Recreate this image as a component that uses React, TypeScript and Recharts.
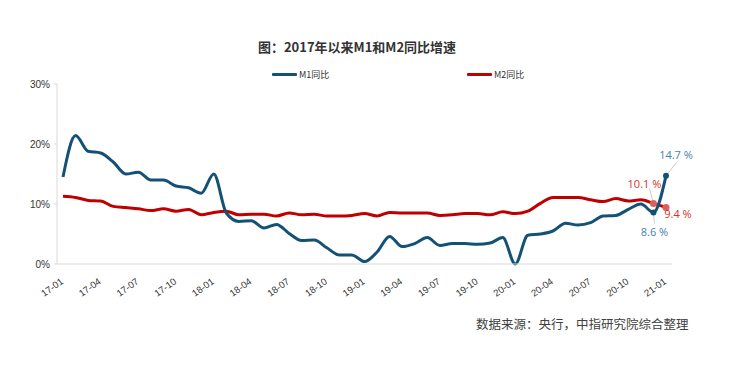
import React from "react";
import { LineChart, Line, XAxis, YAxis } from "recharts";

const months = [
  "17-01","17-02","17-03","17-04","17-05","17-06","17-07","17-08","17-09","17-10","17-11","17-12",
  "18-01","18-02","18-03","18-04","18-05","18-06","18-07","18-08","18-09","18-10","18-11","18-12",
  "19-01","19-02","19-03","19-04","19-05","19-06","19-07","19-08","19-09","19-10","19-11","19-12",
  "20-01","20-02","20-03","20-04","20-05","20-06","20-07","20-08","20-09","20-10","20-11","20-12",
  "21-01",
];

const m1 = [
  14.5, 21.4, 18.8, 18.5, 17.0, 15.0, 15.3, 14.0, 14.0, 13.0, 12.7, 11.8,
  15.0, 8.5, 7.1, 7.2, 6.0, 6.6, 5.1, 3.9, 4.0, 2.7, 1.5, 1.5,
  0.4, 2.0, 4.6, 2.9, 3.4, 4.4, 3.1, 3.4, 3.4, 3.3, 3.5, 4.4,
  0.0, 4.8, 5.0, 5.5, 6.8, 6.5, 6.9, 8.0, 8.1, 9.1, 10.0, 8.6,
  14.7,
];

const m2 = [
  11.3, 11.1, 10.6, 10.5, 9.6, 9.4, 9.2, 8.9, 9.2, 8.8, 9.1, 8.2,
  8.6, 8.8, 8.2, 8.3, 8.3, 8.0, 8.5, 8.2, 8.3, 8.0, 8.0, 8.1,
  8.4, 8.0, 8.6, 8.5, 8.5, 8.5, 8.1, 8.2, 8.4, 8.4, 8.2, 8.7,
  8.4, 8.8, 10.1, 11.1, 11.1, 11.1, 10.7, 10.4, 10.9, 10.5, 10.7, 10.1,
  9.4,
];

const yTicks = [0, 10, 20, 30];
const seriesNames = ["M1同比", "M2同比"];
const title = "图：2017年以来M1和M2同比增速";
const source = "数据来源：央行，中指研究院综合整理";

const data = months.map((m, i) => ({ month: m, m1: m1[i], m2: m2[i] }));

const M1_COLOR = "#135274";
const M2_COLOR = "#C00000";
const M1_LABEL = "#3C83B5";
const M2_LABEL = "#D9302C";

// annotation placement (relative to the point) per series/index
const m1Ann: Record<number, { lx: number; ly: number; tx: number; ty: number }> = {
  47: { lx: 1, ly: 11, tx: 1, ty: 19 },
  48: { lx: 11, ly: -14, tx: 10, ty: -21 },
};
const m2Ann: Record<number, { lx: number; ly: number; tx: number; ty: number }> = {
  47: { lx: -4, ly: -15, tx: -9, ty: -20 },
  48: { lx: 4, ly: 4, tx: 12, ty: 6 },
};

const makeDot = (ann: typeof m1Ann, dotColor: string, labelColor: string, r: number) => (props: any) => {
  const { cx, cy, index, value } = props;
  const a = ann[index];
  if (!a || cx == null || cy == null) return <g key={`d-${index}`} />;
  const v = Array.isArray(value) ? value[1] : value;
  return (
    <g key={`d-${index}`}>
      <line x1={cx} y1={cy} x2={cx + a.lx} y2={cy + a.ly} stroke="#BFBFBF" strokeWidth={0.8} />
      <circle cx={cx} cy={cy} r={r} fill={dotColor} />
      <text
        x={cx + a.tx}
        y={cy + a.ty}
        textAnchor="middle"
        dominantBaseline="central"
        fontSize={11}
        fontFamily="'Open Sans', 'Liberation Sans', sans-serif"
        fill={labelColor}
      >
        {`${Number(v).toFixed(1)} %`}
      </text>
    </g>
  );
};

const XTick = (props: any) => {
  const { x, y, payload } = props;
  const ax = x + 1;
  const ay = y + 11;
  return (
    <text
      x={ax}
      y={ay}
      transform={`rotate(-35, ${ax}, ${ay})`}
      textAnchor="end"
      fontSize={9.5}
      fontFamily="'Liberation Sans', Arial, sans-serif"
      fill="#333"
    >
      {payload.value}
    </text>
  );
};

export default function App() {
  return (
    <div style={{ position: "absolute", left: 0, top: 0, width: 730, height: 377, background: "#fff" }}>
      <div
        style={{
          position: "absolute",
          left: 0,
          width: 714,
          top: 37,
          textAlign: "center",
          fontFamily: "'Noto Sans CJK SC', sans-serif",
          fontWeight: 700,
          fontSize: 13,
          color: "#333",
          lineHeight: "20px",
        }}
      >
        {title}
      </div>
      {[
        { x: 272, color: M1_COLOR, name: seriesNames[0] },
        { x: 467, color: M2_COLOR, name: seriesNames[1] },
      ].map((l) => (
        <div key={l.name} style={{ position: "absolute", left: l.x, top: 67, height: 14, display: "flex", alignItems: "center" }}>
          <div style={{ width: 25, height: 3, background: l.color, borderRadius: 1 }} />
          <span
            style={{
              marginLeft: 2,
              fontSize: 9,
              fontFamily: "'Noto Sans CJK SC', sans-serif",
              color: "#333",
            }}
          >
            {l.name}
          </span>
        </div>
      ))}
      <LineChart
        width={730}
        height={377}
        data={data}
        margin={{ top: 84, right: 58, bottom: 73, left: 12 }}
        style={{ position: "absolute", left: 0, top: 0 }}
      >
        <XAxis
          dataKey="month"
          interval={2}
          tick={<XTick />}
          tickLine={false}
          axisLine={{ stroke: "#D9D9D9" }}
          padding={{ left: 6, right: 6 }}
          height={40}
        />
        <YAxis
          width={45}
          domain={[0, 30]}
          ticks={yTicks}
          tickFormatter={(v: number) => `${v}%`}
          tick={{ fontSize: 10, fill: "#333", fontFamily: "'Liberation Sans', Arial, sans-serif" }}
          tickLine={{ stroke: "#D9D9D9" }}
          tickSize={3}
          tickMargin={4}
          axisLine={{ stroke: "#D9D9D9" }}
        />
        <Line
          type="monotone"
          dataKey="m2"
          stroke={M2_COLOR}
          strokeWidth={3}
          dot={makeDot(m2Ann, "#D9625F", M2_LABEL, 3.5)}
          activeDot={false}
          isAnimationActive={false}
        />
        <Line
          type="monotone"
          dataKey="m1"
          stroke={M1_COLOR}
          strokeWidth={3}
          dot={makeDot(m1Ann, M1_COLOR, M1_LABEL, 3)}
          activeDot={false}
          isAnimationActive={false}
        />
      </LineChart>
      <div
        style={{
          position: "absolute",
          left: 476,
          top: 315,
          fontSize: 12.5,
          fontFamily: "'Noto Sans CJK SC', sans-serif",
          color: "#404040",
          whiteSpace: "nowrap",
          lineHeight: "18px",
        }}
      >
        {source}
      </div>
    </div>
  );
}
